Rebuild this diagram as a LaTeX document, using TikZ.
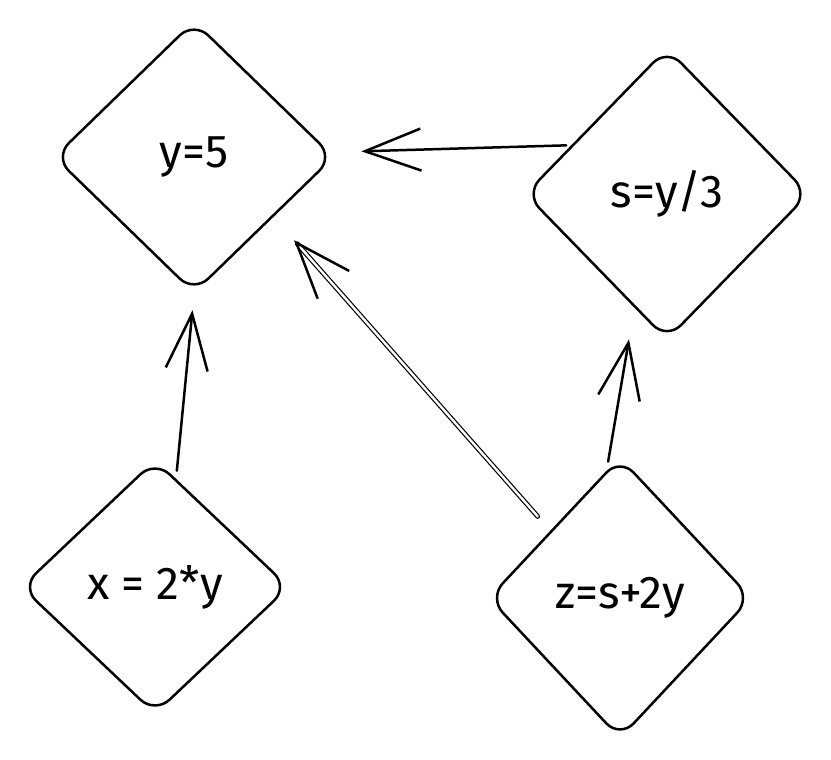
\documentclass[tikz,border=0pt]{standalone}
\usepackage{fontspec}
\setmainfont{Fira Sans}
\usetikzlibrary{shapes.geometric,arrows.meta}

\begin{document}
\begin{tikzpicture}[x=0.5pt,y=-0.5pt,
    box/.style={draw,diamond,line width=1.25pt,rounded corners=10pt,inner sep=0pt,
        font=\fontsize{23}{27}\selectfont},
    arr/.style={line width=1.25pt,line cap=round,
        -{Straight Barb[length=28pt,width=21pt,line width=1.25pt]}}]
    \useasboundingbox (0,0) rectangle (831,760);

    \node[box,minimum width=140pt,minimum height=136pt] (y5) at (194,157) {y=5};
    \node[box,minimum width=142pt,minimum height=146pt] (s) at (667,194) {s=y/3};
    \node[box,minimum width=134pt,minimum height=127pt] (x) at (155,587) {x = 2*y};
    \node[box,minimum width=131.5pt,minimum height=140.5pt] (z) at (620,598) {z=s+2y};

    \draw[arr,shorten <=4pt,shorten >=8pt] (x.79) -- (y5.south);
    \draw[arr,shorten <=4.5pt,shorten >=16pt] (z.96) -- (s.254);
    \draw[arr,double,double distance=1.2pt,line width=0.6pt,shorten <=9.5pt,shorten >=15.5pt] (z.136) -- (y5.323);
    \draw[arr,shorten <=2.5pt,shorten >=15.5pt] (s.153) -- (y5.2);

\end{tikzpicture}
\end{document}
